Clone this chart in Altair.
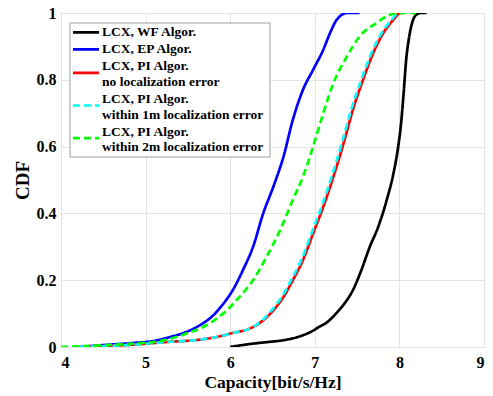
import altair as alt
import pandas as pd

names = [
    "LCX, WF Algor.",
    "LCX, EP Algor.",
    "LCX, PI Algor.|no localization error",
    "LCX, PI Algor.|within 1m localization error",
    "LCX, PI Algor.|within 2m localization error",
]
colors = ["#000000", "#0000ff", "#ff0000", "#00ffff", "#00ff00"]
dashes = [[1, 0], [1, 0], [1, 0], [7, 4], [7, 4]]

wf_x = [6.00, 6.15, 6.30, 6.45, 6.62, 6.80, 6.95, 7.05, 7.15, 7.25, 7.35, 7.45, 7.55, 7.65,
        7.75, 7.85, 7.93, 7.98, 8.02, 8.05, 8.08, 8.11, 8.15, 8.20, 8.25, 8.32]
wf_y = [0, 0.006, 0.011, 0.015, 0.02, 0.03, 0.045, 0.06, 0.075, 0.1, 0.13, 0.17, 0.23, 0.3,
        0.36, 0.44, 0.52, 0.59, 0.67, 0.76, 0.86, 0.92, 0.97, 0.995, 1.0, 1.0]

ep_x = [4.22, 4.46, 4.85, 5.09, 5.29, 5.48, 5.64, 5.80, 5.92, 6.03, 6.15, 6.27, 6.39, 6.51,
        6.63, 6.74, 6.86, 6.98, 7.10, 7.18, 7.26, 7.38, 7.53]
ep_y = [0, 0.005, 0.012, 0.018, 0.03, 0.045, 0.065, 0.095, 0.13, 0.17, 0.23, 0.30, 0.40, 0.48,
        0.57, 0.68, 0.77, 0.83, 0.89, 0.94, 0.98, 1.0, 1.0]

pi0_x = [4.30, 4.46, 4.85, 5.25, 5.64, 5.84, 6.03, 6.23, 6.39, 6.51, 6.63, 6.74, 6.86, 6.98,
         7.10, 7.22, 7.34, 7.45, 7.57, 7.69, 7.81, 7.93, 8.01, 8.05]
pi0_y = [0, 0.002, 0.007, 0.015, 0.022, 0.03, 0.042, 0.055, 0.08, 0.11, 0.15, 0.20, 0.26, 0.34,
         0.42, 0.51, 0.61, 0.71, 0.80, 0.88, 0.94, 0.98, 1.0, 1.0]

pi1_x = [4.22, 4.46, 4.85, 5.25, 5.64, 5.84, 6.03, 6.23, 6.38, 6.49, 6.61, 6.72, 6.84, 6.96,
         7.08, 7.20, 7.32, 7.43, 7.55, 7.67, 7.79, 7.91, 7.99, 8.03]
pi1_y = [0, 0.002, 0.007, 0.015, 0.022, 0.03, 0.042, 0.055, 0.08, 0.11, 0.15, 0.20, 0.26, 0.34,
         0.42, 0.51, 0.61, 0.71, 0.80, 0.88, 0.94, 0.98, 1.0, 1.0]

pi2_x = [4.00, 4.46, 4.85, 5.25, 5.48, 5.72, 5.96, 6.11, 6.27, 6.43, 6.59, 6.74, 6.86, 6.98,
         7.10, 7.22, 7.38, 7.53, 7.73, 7.89, 8.01, 8.20]
pi2_y = [0, 0.005, 0.01, 0.022, 0.04, 0.065, 0.11, 0.15, 0.2, 0.27, 0.35, 0.44, 0.51, 0.6,
         0.70, 0.79, 0.87, 0.93, 0.97, 0.995, 1.0, 1.0]

series = [(wf_x, wf_y), (ep_x, ep_y), (pi0_x, pi0_y), (pi1_x, pi1_y), (pi2_x, pi2_y)]
rows = []
for i, (xs, ys) in enumerate(series):
    for j, (x, y) in enumerate(zip(xs, ys)):
        rows.append({"series": names[i], "x": x, "y": y, "k": i, "o": j})
df = pd.DataFrame(rows)

# ---- manual legend layout (pixel positions inside the plot area) ----
LEG_X0, LEG_X1, LEG_Y0, LEG_Y1 = 9, 209, 10, 144
SYM_X0, SYM_X1, TXT_X = 12, 38, 41
LINE_H, ENTRY_GAP, FIRST_Y = 15.7, 1.3, 19.3
sym_rows, txt_rows = [], []
y = FIRST_Y
for i, n in enumerate(names):
    parts = n.split("|")
    sym_y = y + (6.5 if len(parts) > 1 else 0)
    sym_rows.append({"series": n, "lx0": SYM_X0, "lx1": SYM_X1, "ly": sym_y})
    for p_i, p in enumerate(parts):
        txt_rows.append({"t": p, "tx": TXT_X, "ty": y + p_i * LINE_H})
    y += len(parts) * LINE_H + ENTRY_GAP
sym_df = pd.DataFrame(sym_rows)
txt_df = pd.DataFrame(txt_rows)

font = "Liberation Serif"

color_scale = alt.Scale(domain=names, range=colors)
dash_scale = alt.Scale(domain=names, range=dashes)

lines = alt.Chart(df).mark_line(strokeWidth=2.7, interpolate="monotone", clip=True).encode(
    x=alt.X("x:Q", scale=alt.Scale(domain=[4, 9], nice=False),
            axis=alt.Axis(values=[4, 5, 6, 7, 8, 9], title="Capacity[bit/s/Hz]")),
    y=alt.Y("y:Q", scale=alt.Scale(domain=[0, 1], nice=False),
            axis=alt.Axis(values=[0, 0.2, 0.4, 0.6, 0.8, 1], format="~g", title="CDF")),
    color=alt.Color("series:N", scale=color_scale, legend=None),
    strokeDash=alt.StrokeDash("series:N", scale=dash_scale, legend=None),
    detail="k:O",
    order="o:Q",
)

box = alt.Chart(pd.DataFrame({"a": [0]})).mark_rect(
    fill="white", stroke="#a0a0a0", strokeWidth=1
).encode(
    x=alt.value(LEG_X0), x2=alt.value(LEG_X1), y=alt.value(LEG_Y0), y2=alt.value(LEG_Y1)
)

syms = alt.Chart(sym_df).mark_rule(strokeWidth=2.7).encode(
    x=alt.X("lx0:Q", scale=None), x2="lx1:Q",
    y=alt.Y("ly:Q", scale=None),
    color=alt.Color("series:N", scale=color_scale, legend=None),
    strokeDash=alt.StrokeDash("series:N", scale=dash_scale, legend=None),
)

texts = alt.Chart(txt_df).mark_text(
    align="left", baseline="middle", font=font, fontWeight="bold", fontSize=13.5, color="#000"
).encode(
    x=alt.X("tx:Q", scale=None),
    y=alt.Y("ty:Q", scale=None),
    text="t:N",
)

chart = alt.layer(lines, box, syms, texts).properties(
    width=423, height=334,
    autosize=alt.AutoSizeParams(type="none"),
    padding={"left": 61, "top": 13, "right": 9, "bottom": 49},
).configure_view(
    stroke="#9a9a9a", strokeWidth=1
).configure_axis(
    labelFont=font, labelFontWeight="bold", labelFontSize=16, labelColor="#000",
    titleFont=font, titleFontWeight="bold", titleFontSize=17.5, titleColor="#000",
    grid=True, gridColor="#e4e4e4", domain=False, ticks=False,
).configure_axisX(
    labelPadding=7, titlePadding=3
).configure_axisY(
    labelPadding=5, titlePadding=4, titleFontSize=19
)

chart.save("out.html", embed_options={"renderer": "svg", "actions": False})
